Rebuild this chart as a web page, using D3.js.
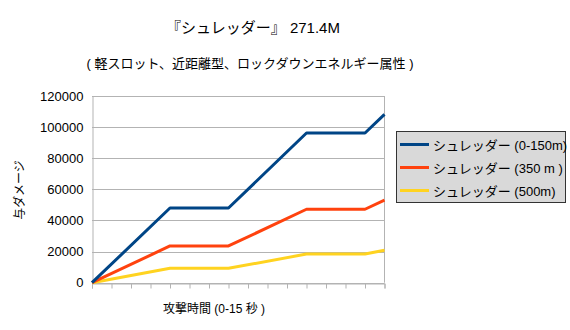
<!DOCTYPE html>
<html><head><meta charset="utf-8">
<script src="https://cdn.jsdelivr.net/npm/d3@7"></script>
<style>body{margin:0;background:#fff}svg{display:block}text{font-family:"Liberation Sans","Noto Sans CJK JP",sans-serif}</style>
</head><body>
<script>
const titleText = "『シュレッダー』 271.4M";
const subtitleText = "( 軽スロット、近距離型、ロックダウンエネルギー属性 )";
const xTitle = "攻撃時間 (0-15 秒 )";
const yTitle = "与ダメージ";
const seconds = [0, 4, 7, 11, 14, 15];
const seriesNames = ["シュレッダー (0-150m)", "シュレッダー (350 m )", "シュレッダー (500m)"];
const blueValues = [0, 48000, 48000, 96200, 96200, 108200];
const redValues = [0, 23600, 23600, 47200, 47200, 53100];
const yellowValues = [0, 9250, 9250, 18400, 18400, 20800];
const yTicks = [0, 20000, 40000, 60000, 80000, 100000, 120000];
const xTicks = d3.range(0, 16);
const colors = ["#004586", "#ff420e", "#ffd320"];

const W = 570, H = 330;
const svg = d3.select("body").append("svg").attr("width", W).attr("height", H);
const x = d3.scaleLinear().domain([0, 15]).range([92, 384.5]);
const y = d3.scaleLinear().domain([0, 120000]).range([282.7, 96]);

svg.append("text").attr("x", 253).attr("y", 33).attr("text-anchor", "middle")
  .attr("font-size", 15).attr("fill", "#000").text(titleText);
svg.append("text").attr("x", 250).attr("y", 68).attr("text-anchor", "middle")
  .attr("font-size", 13).attr("fill", "#000").text(subtitleText);

// gridlines
svg.append("g").selectAll("line").data(yTicks).join("line")
  .attr("x1", x(0)).attr("x2", x(15)).attr("y1", d => Math.round(y(d)) + 0.5).attr("y2", d => Math.round(y(d)) + 0.5)
  .attr("stroke", "#b3b3b3").attr("stroke-width", 1);
// right border
svg.append("line").attr("x1", x(15)).attr("x2", x(15)).attr("y1", y(120000)).attr("y2", y(0))
  .attr("stroke", "#b3b3b3");

// x axis
const xAxis = svg.append("g").attr("transform", `translate(0,${Math.round(y(0)) + 0.5})`)
  .call(d3.axisBottom(x).tickValues(xTicks).tickSize(5).tickFormat(""));
xAxis.select(".domain").attr("stroke", "#b3b3b3");
xAxis.selectAll(".tick line").attr("stroke", "#b3b3b3");
// y axis
const yAxis = svg.append("g").attr("transform", `translate(${Math.round(x(0)) + 0.5},0)`)
  .call(d3.axisLeft(y).tickValues(yTicks).tickSize(0).tickPadding(9).tickFormat(d3.format("d")));
yAxis.select(".domain").attr("stroke", "#b3b3b3");
yAxis.selectAll(".tick text").attr("font-size", 13).attr("fill", "#000")
  .attr("font-family", "'Liberation Sans',sans-serif");
svg.append("line").attr("x1", Math.round(x(0)) + 0.5).attr("x2", Math.round(x(0)) + 0.5)
  .attr("y1", y(0)).attr("y2", y(0) + 5).attr("stroke", "#b3b3b3");

// lines
const allSeries = [blueValues, redValues, yellowValues];
const line = d3.line().x((d, i) => x(seconds[i])).y(d => y(d));
[2, 1, 0].forEach(k => {
  svg.append("path").datum(allSeries[k]).attr("d", line).attr("fill", "none")
    .attr("stroke", colors[k]).attr("stroke-width", 3).attr("stroke-linejoin", "round");
});

// axis titles
svg.append("text").attr("x", 214).attr("y", 313).attr("text-anchor", "middle")
  .attr("font-size", 12).attr("fill", "#000").text(xTitle);
svg.append("text").attr("transform", "translate(24,190) rotate(-90)").attr("text-anchor", "middle")
  .attr("font-size", 12).attr("fill", "#000").text(yTitle);

// legend
const lg = svg.append("g");
lg.append("rect").attr("x", 396.5).attr("y", 131.5).attr("width", 169).attr("height", 71)
  .attr("fill", "#d9d9d9").attr("stroke", "#333").attr("stroke-width", 1);
seriesNames.forEach((n, i) => {
  const yy = 144.5 + i * 23;
  lg.append("line").attr("x1", 400).attr("x2", 429).attr("y1", yy).attr("y2", yy)
    .attr("stroke", colors[i]).attr("stroke-width", 3);
  lg.append("text").attr("x", 433).attr("y", yy + 5).attr("font-size", 13).attr("fill", "#000").text(n);
});
</script>
</body></html>
